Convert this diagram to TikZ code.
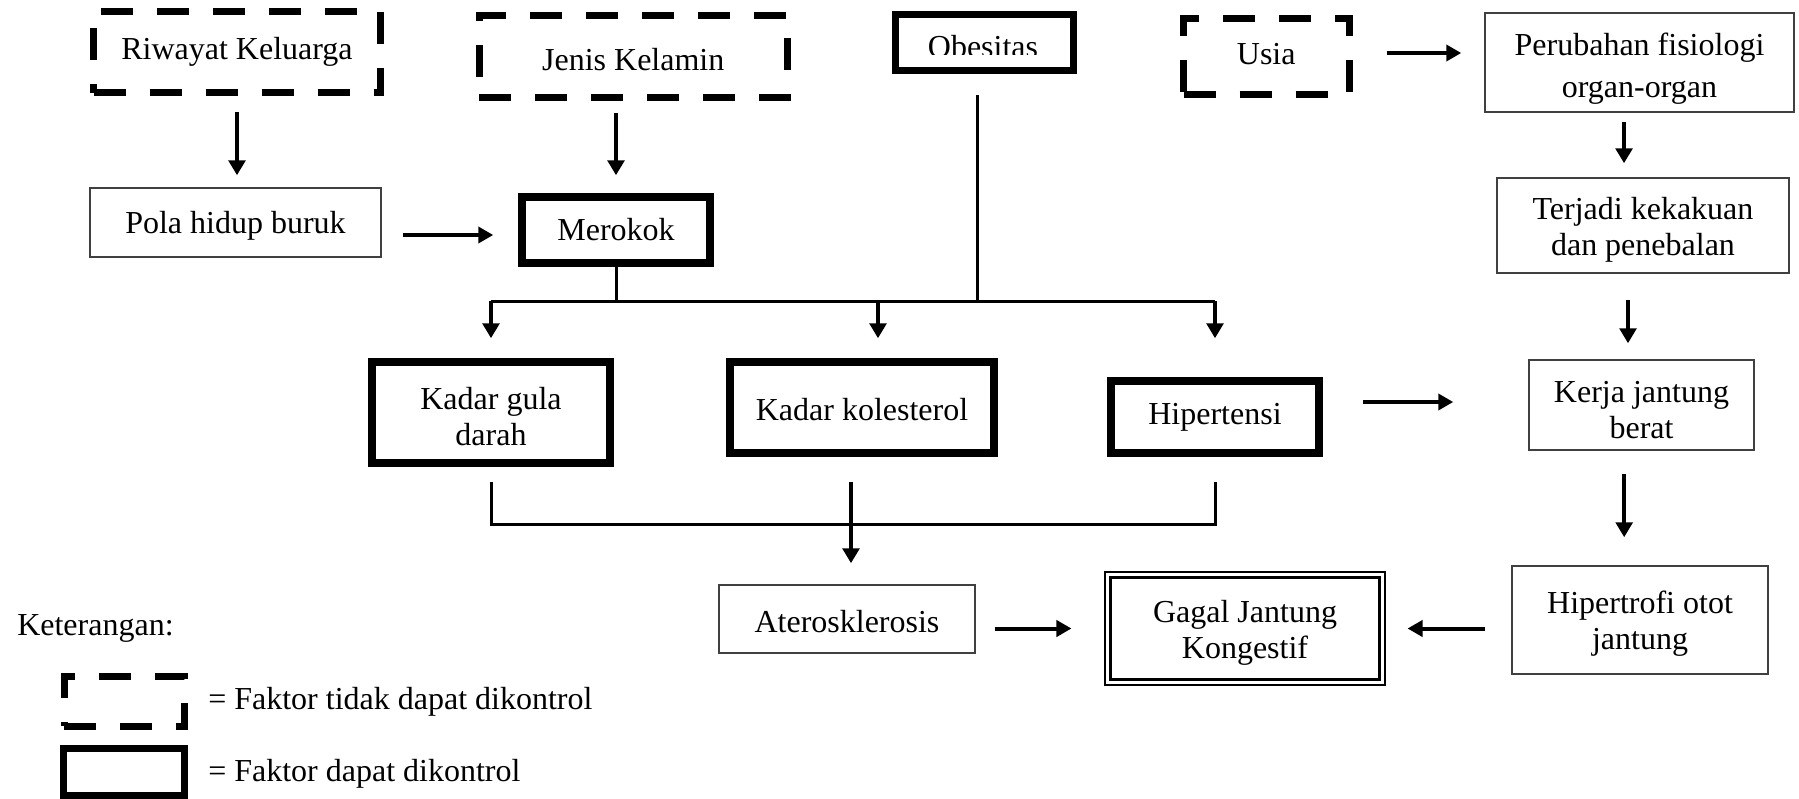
\documentclass[tikz,border=0pt]{standalone}
\usepackage{fontspec}
\setmainfont{Liberation Serif}
\usetikzlibrary{arrows.meta}
\newcommand\drawbx[7]{\node[#2, minimum width={(#5-#3)*0.75pt}, minimum height={(#6-#4)*0.75pt}] (#1) at ({(#3+#5)/2},{(#4+#6)/2}) {#7};}
\newcommand\tstr[1]{\rule{0pt}{#1pt}}
\newcommand\bstr[1]{\rule[-#1pt]{0pt}{#1pt}}
\begin{document}
\begin{tikzpicture}[x=0.75pt,y=-0.75pt,
  every node/.style={font=\fontsize{24}{27}\selectfont, align=center, inner sep=0pt},
  plainbox/.style={rectangle, draw=black!75, line width=1.1pt},
  ctrlbox/.style={rectangle, draw=black, line width=5.6pt},
  fixbox/.style={rectangle, draw=black, line width=5.25pt, dash pattern=on 24pt off 18pt},
  finalbox/.style={rectangle, draw=black, line width=1.9pt, double, double distance=1.9pt},
  conn/.style={draw, line width=2.25pt},
  varr/.style={draw, line width=3pt, -{Triangle[length=11.25pt,width=12.5pt]}},
  harr/.style={draw, line width=3pt, -{Triangle[length=11.25pt,width=12pt]}},
]
\useasboundingbox (0,0) rectangle (1799,799);
\fill[white] (0,0) rectangle (1799,799);

% boxes
\drawbx{rw}{fixbox}{93.5}{11.5}{380.5}{93}{Riwayat Keluarga}
\drawbx{jk}{fixbox}{479}{16}{787.5}{97.5}{\tstr{21.5}Jenis Kelamin}
\drawbx{us}{fixbox}{1183.5}{19}{1349}{95}{Usia\bstr{5.2}}
\drawbx{ob}{ctrlbox}{895.5}{14.5}{1073.5}{70.5}{}
\begin{scope}
  \clip (896,20) rectangle (1073,55);
  \node[anchor=base] (obt) at (983,58) {Obesitas};
\end{scope}
\drawbx{pr}{plainbox}{1485}{13}{1794}{112}{\tstr{26}Perubahan fisiologi\\[4.5pt]organ-organ}
\drawbx{tk}{plainbox}{1497}{178}{1789}{273}{\tstr{23}Terjadi kekakuan\\dan penebalan}
\drawbx{pola}{plainbox}{90}{188}{381}{257}{\tstr{22}Pola hidup buruk}
\drawbx{mk}{ctrlbox}{522}{197}{710}{263}{Merokok}
\drawbx{kg}{ctrlbox}{372}{362}{610}{463}{\tstr{23}Kadar gula\\darah}
\drawbx{kk}{ctrlbox}{730}{362}{994}{453}{\tstr{20}Kadar kolesterol}
\drawbx{hp}{ctrlbox}{1111}{381}{1319}{453}{Hipertensi}
\drawbx{kj}{plainbox}{1529}{360}{1754}{450}{\tstr{23}Kerja jantung\\berat}
\drawbx{ht}{plainbox}{1512}{566}{1768}{674}{\tstr{23}Hipertrofi otot\\jantung}
\drawbx{gg}{finalbox}{1107.75}{574.75}{1382.25}{682.25}{\tstr{23}Gagal Jantung\\Kongestif}
\drawbx{at}{plainbox}{719}{585}{975}{653}{\tstr{20}Aterosklerosis}

% legend
\node[anchor=base west] (ket) at (17,635) {Keterangan:};
\drawbx{lgfix}{fixbox}{64}{676.5}{184.5}{726}{}
\drawbx{lgctrl}{ctrlbox}{63.5}{748.5}{184.5}{795.5}{}
\node[anchor=base west] (lgfixt) at (208,709) {= Faktor tidak dapat dikontrol};
\node[anchor=base west] (lgctrlt) at (208,781) {= Faktor dapat dikontrol};

% coordinates
\coordinate (topbus) at (617,301);
\coordinate (lowbus) at (851,524);
\coordinate (obx) at ([xshift=-5.6pt]ob.south);
\coordinate (kkx) at ([xshift=12pt]kk.north);
\coordinate (kkl) at ([xshift=-8.25pt]kk.south);
\coordinate (prx) at ([xshift=-11.6pt]pr.south);
\coordinate (tkx) at ([xshift=-11.25pt]tk.south);
\coordinate (kjx) at ([xshift=-13pt]kj.south);
\coordinate (usy) at ([yshift=3pt]us.east);
\coordinate (hpy) at ([yshift=11.25pt]hp.east);
\coordinate (mky) at ([yshift=-3.75pt]mk.west);

% top part
\draw[varr, shorten <=11.6pt, shorten >=9pt] (rw.south) -- (rw.south |- pola.north);
\draw[varr, shorten <=9pt, shorten >=13.5pt] (mk.north |- jk.south) -- (mk.north);
\draw[harr, shorten <=15.75pt, shorten >=18.75pt] (pola.east |- mky) -- (mky);

% upper bus
\draw[conn] (mk.south) -- (mk.south |- topbus);
\draw[conn, shorten <=15.75pt] (obx) -- (obx |- topbus);
\draw[conn] (kg.north |- topbus) -- (hp.north |- topbus);
\draw[varr, shorten >=15pt] (kg.north |- topbus) -- (kg.north);
\draw[varr, shorten >=15pt] (kkx |- topbus) -- (kkx);
\draw[varr, shorten >=29.25pt] (hp.north |- topbus) -- (hp.north);

% lower bus
\draw[conn, shorten <=11.25pt, shorten >=18.75pt] (kg.south) -- (kg.south |- lowbus) -- (hp.south |- lowbus) -- (hp.south);
\draw[varr, shorten <=18.75pt, shorten >=15.75pt] (kkl) -- (kkl |- at.north);

% right column
\draw[harr, shorten <=25.5pt, shorten >=17.25pt] (usy) -- (usy -| pr.west);
\draw[varr, shorten <=6.75pt, shorten >=10.5pt] (prx) -- (prx |- tk.north);
\draw[varr, shorten <=19.5pt, shorten >=12pt] (tkx) -- (tkx |- kj.north);
\draw[varr, shorten <=17.25pt, shorten >=21pt] (kjx) -- (kjx |- ht.north);
\draw[harr, shorten <=30pt, shorten >=56.25pt] (hpy) -- (hpy -| kj.west);
\draw[harr, shorten <=19.5pt, shorten >=18pt] (ht.west |- gg.east) -- (gg.east);
\draw[harr, shorten <=14.25pt, shorten >=26.25pt] (at.east |- gg.west) -- (gg.west);
\end{tikzpicture}
\end{document}
